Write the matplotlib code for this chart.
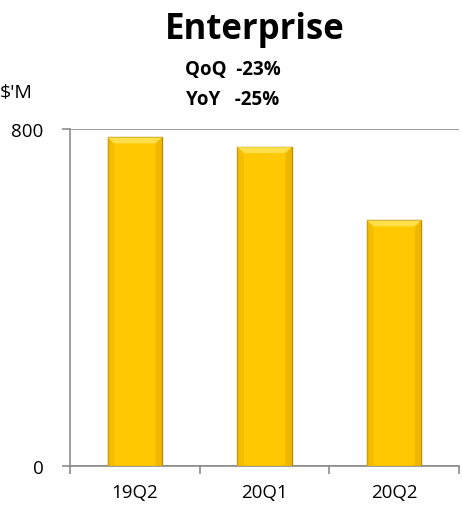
import matplotlib.pyplot as plt
from matplotlib.patches import Polygon

quarters = ["19Q2", "20Q1", "20Q2"]
revenue = [780, 757, 583]
y_ticks = [0, 800]
qoq_text = "QoQ  -23%"
yoy_text = "YoY   -25%"

plt.rcParams["font.family"] = ["Open Sans", "DejaVu Sans"]

BAR_FACE = "#FFC800"
BAR_EDGE = "#B58E12"
BEVEL = "#FFE04A"
AXIS_GREY = "#8C8C8C"

fig = plt.figure(figsize=(4.62, 5.10), dpi=100)
ax = fig.add_axes([0.1515, 0.0843, 0.842, 0.6607])

x = list(range(len(quarters)))
width = 0.42
bars = ax.bar(x, revenue, width=width, color=BAR_FACE, edgecolor=BAR_EDGE,
              linewidth=1.0, zorder=3)

# bevelled top and shaded sides on each bar
for rect in bars:
    x0 = rect.get_x()
    w = rect.get_width()
    top = rect.get_height()
    bevel_h = 14
    inset = w * 0.12
    ax.add_patch(Polygon([(x0, top), (x0 + w, top), (x0 + w - inset, top - bevel_h),
                          (x0 + inset, top - bevel_h)], closed=True,
                         facecolor=BEVEL, edgecolor="none", zorder=4))
    ax.add_patch(Polygon([(x0, top), (x0 + inset, top - bevel_h), (x0 + inset, 0),
                          (x0, 0)], closed=True, facecolor="#E8B400",
                         edgecolor="none", zorder=4, alpha=0.5))
    ax.add_patch(Polygon([(x0 + w, top), (x0 + w - inset, top - bevel_h),
                          (x0 + w - inset, 0), (x0 + w, 0)], closed=True,
                         facecolor="#E0A800", edgecolor="none", zorder=4, alpha=0.5))

ax.set_xlim(-0.5, len(quarters) - 0.5)
ax.set_ylim(0, 800)
ax.set_yticks(y_ticks)
ax.set_yticklabels([str(v) for v in y_ticks], fontsize=13.5)
ax.set_xticks(x)
ax.set_xticklabels(quarters, fontsize=13.5)
ax.tick_params(axis="x", length=0, pad=12)
ax.set_xticks([i - 0.5 for i in range(len(quarters) + 1)], minor=True)
ax.tick_params(axis="x", which="minor", length=6, color=AXIS_GREY, width=1.2)
ax.tick_params(axis="y", length=6, color=AXIS_GREY, width=1.2, pad=13)

ax.grid(axis="y", color=AXIS_GREY, linewidth=1.2, zorder=0)
for side in ["top", "right"]:
    ax.spines[side].set_visible(False)
for side in ["left", "bottom"]:
    ax.spines[side].set_color(AXIS_GREY)
    ax.spines[side].set_linewidth(1.2)
ax.set_axisbelow(True)

fig.text(0.551, 0.941, "Enterprise", ha="center", va="center",
         fontsize=25, fontweight="bold")
fig.text(0.503, 0.862, qoq_text, ha="center", va="center",
         fontsize=13.5, fontweight="bold")
fig.text(0.503, 0.803, yoy_text, ha="center", va="center",
         fontsize=13.5, fontweight="bold")
fig.text(0.0, 0.818, "$'M", ha="left", va="center", fontsize=14)

fig.savefig("out.png", dpi=100)
